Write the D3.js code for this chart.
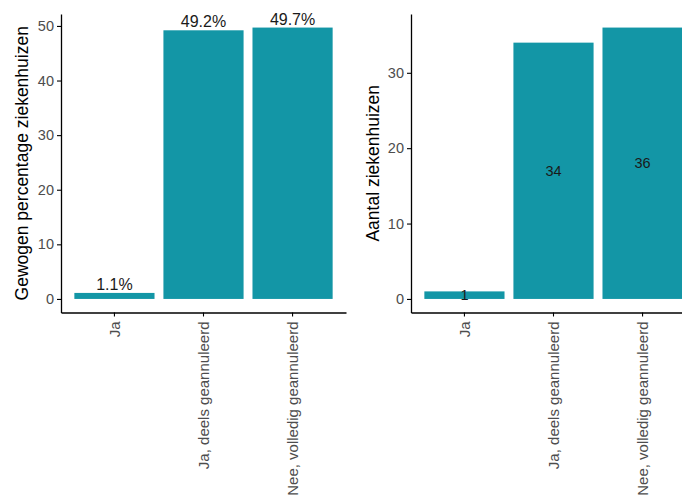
<!DOCTYPE html>
<html>
<head>
<meta charset="utf-8">
<script src="https://cdn.jsdelivr.net/npm/d3@7"></script>
<style>
  body { margin: 0; background: #fff; }
  svg { display: block; font-family: "Liberation Sans", Arial, sans-serif; }
</style>
</head>
<body>
<div id="chart"></div>
<script>
// Data
const categories = ["Ja", "Ja, deels geannuleerd", "Nee, volledig geannuleerd"];
const weightedPct = [1.1, 49.2, 49.7];
const hospitalCounts = [1, 34, 36];
const pctTicks = [0, 10, 20, 30, 40, 50];
const countTicks = [0, 10, 20, 30];

const W = 682, H = 495;
const barColor = "#1396a6";
const panelTop = 14, panelBottom = 312.5;

const svg = d3.select("#chart").append("svg")
    .attr("width", W).attr("height", H);

svg.append("rect").attr("width", W).attr("height", H).attr("fill", "#fff");

// draws one ggplot-like panel
function drawPanel(opts) {
    const g = svg.append("g");
    const max = d3.max(opts.values);

    const x = d3.scaleBand()
        .domain(categories)
        .range([opts.left, opts.left + 285])
        .paddingInner(0.1)
        .paddingOuter(0.15);

    const y = d3.scaleLinear()
        .domain([-max * 0.05, max * 1.05])
        .range([panelBottom, panelTop]);

    const rows = categories.map((c, i) => ({cat: c, value: opts.values[i]}));

    g.selectAll("rect.bar")
        .data(rows)
        .enter().append("rect")
        .attr("class", "bar")
        .attr("x", d => x(d.cat))
        .attr("width", x.bandwidth())
        .attr("y", d => y(d.value))
        .attr("height", d => y(0) - y(d.value))
        .attr("fill", barColor);

    // value labels
    g.selectAll("text.val")
        .data(rows)
        .enter().append("text")
        .attr("class", "val")
        .attr("x", d => x(d.cat) + x.bandwidth() / 2)
        .attr("y", d => opts.labelMid ? y(d.value / 2) : y(d.value) - 3)
        .attr("dy", opts.labelMid ? "0.35em" : 0)
        .attr("text-anchor", "middle")
        .style("font-size", opts.labelSize + "px")
        .style("fill", "#1a1a1a")
        .text(d => opts.format(d.value));

    // y axis
    const yAxis = g.append("g")
        .attr("transform", `translate(${opts.left},0)`)
        .call(d3.axisLeft(y).tickValues(opts.ticks).tickSize(4).tickSizeOuter(0).tickPadding(3));

    // x axis
    const xAxis = g.append("g")
        .attr("transform", `translate(0,${panelBottom})`)
        .call(d3.axisBottom(x).tickSize(4).tickSizeOuter(0));

    [yAxis, xAxis].forEach(a => {
        a.select(".domain").attr("stroke", "#000").attr("stroke-width", 1.3);
        a.selectAll(".tick line").attr("stroke", "#000").attr("stroke-width", 1.1);
        a.selectAll(".tick text")
            .style("font-size", "14.5px")
            .style("font-family", "Liberation Sans, Arial, sans-serif")
            .attr("fill", "#4d4d4d");
    });

    xAxis.selectAll(".tick text")
        .attr("transform", "rotate(-90)")
        .attr("text-anchor", "end")
        .attr("x", -9)
        .attr("y", 0)
        .attr("dy", "0.35em")
        .style("font-size", "15px");

    // axis title
    g.append("text")
        .attr("transform", `translate(${opts.titleX},${(panelTop + panelBottom) / 2}) rotate(-90)`)
        .attr("text-anchor", "middle")
        .style("font-size", "17.5px")
        .style("fill", "#000")
        .text(opts.title);
}

drawPanel({
    left: 61,
    values: weightedPct,
    ticks: pctTicks,
    title: "Gewogen percentage ziekenhuizen",
    titleX: 28,
    labelMid: false,
    labelSize: 16,
    format: d => d3.format(".1f")(d) + "%"
});

drawPanel({
    left: 411,
    values: hospitalCounts,
    ticks: countTicks,
    title: "Aantal ziekenhuizen",
    titleX: 379,
    labelMid: true,
    labelSize: 14.5,
    format: d => d
});
</script>
</body>
</html>
